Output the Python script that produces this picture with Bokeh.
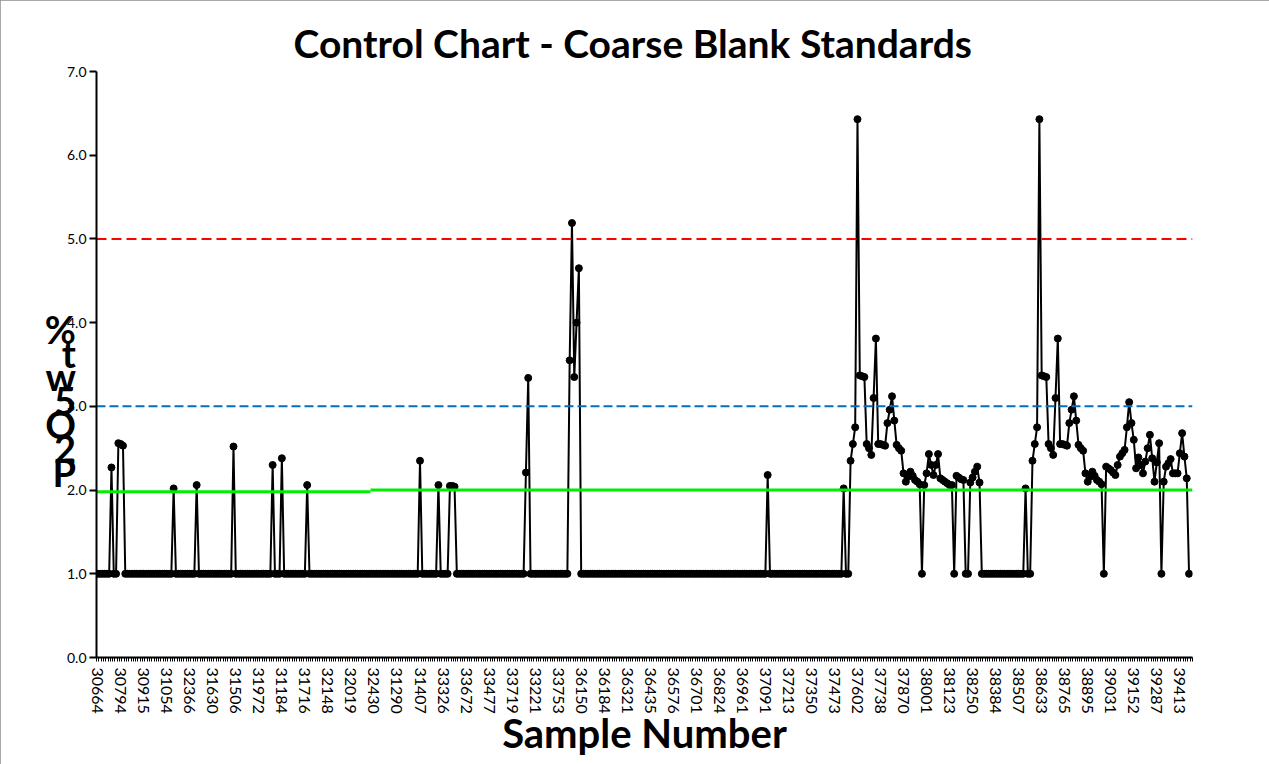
import math
from bokeh.plotting import figure
from bokeh.models import Range1d, FixedTicker, NumeralTickFormatter
from bokeh.embed import file_html
from bokeh.resources import INLINE

# ---------------- data ----------------
n_categories = 476          # category slots on the x axis
label_step = 10             # every 10th sample number is labelled

sample_labels = [
    "30664", "30794", "30915", "31054", "32366", "31630", "31506", "31972",
    "31184", "31716", "32148", "32019", "32430", "31290", "31407", "33326",
    "33672", "33477", "33719", "33221", "33753", "36150", "36184", "36321",
    "36435", "36576", "36701", "36824", "36961", "37091", "37213", "37350",
    "37473", "37602", "37738", "37870", "38001", "38123", "38250", "38384",
    "38507", "38633", "38765", "38895", "39031", "39152", "39287", "39413",
]

qc_values = [
    # 0-19
    1.0, 1.0, 1.0, 1.0, 1.0, 1.0, 2.27, 1.0, 1.0, 2.56, 2.55, 2.53, 1.0, 1.0, 1.0, 1.0, 1.0, 1.0, 1.0, 1.0,
    # 20-39
    1.0, 1.0, 1.0, 1.0, 1.0, 1.0, 1.0, 1.0, 1.0, 1.0, 1.0, 1.0, 1.0, 2.02, 1.0, 1.0, 1.0, 1.0, 1.0, 1.0,
    # 40-59
    1.0, 1.0, 1.0, 2.06, 1.0, 1.0, 1.0, 1.0, 1.0, 1.0, 1.0, 1.0, 1.0, 1.0, 1.0, 1.0, 1.0, 1.0, 1.0, 2.52,
    # 60-79
    1.0, 1.0, 1.0, 1.0, 1.0, 1.0, 1.0, 1.0, 1.0, 1.0, 1.0, 1.0, 1.0, 1.0, 1.0, 1.0, 2.30, 1.0, 1.0, 1.0,
    # 80-99
    2.38, 1.0, 1.0, 1.0, 1.0, 1.0, 1.0, 1.0, 1.0, 1.0, 1.0, 2.06, 1.0, 1.0, 1.0, 1.0, 1.0, 1.0, 1.0, 1.0,
    # 100-119
    1.0, 1.0, 1.0, 1.0, 1.0, 1.0, 1.0, 1.0, 1.0, 1.0, 1.0, 1.0, 1.0, 1.0, 1.0, 1.0, 1.0, 1.0, 1.0, 1.0,
    # 120-139
    1.0, 1.0, 1.0, 1.0, 1.0, 1.0, 1.0, 1.0, 1.0, 1.0, 1.0, 1.0, 1.0, 1.0, 1.0, 1.0, 1.0, 1.0, 1.0, 1.0,
    # 140-159
    2.35, 1.0, 1.0, 1.0, 1.0, 1.0, 1.0, 1.0, 2.06, 1.0, 1.0, 1.0, 1.0, 2.05, 2.05, 2.04, 1.0, 1.0, 1.0, 1.0,
    # 160-179
    1.0, 1.0, 1.0, 1.0, 1.0, 1.0, 1.0, 1.0, 1.0, 1.0, 1.0, 1.0, 1.0, 1.0, 1.0, 1.0, 1.0, 1.0, 1.0, 1.0,
    # 180-199
    1.0, 1.0, 1.0, 1.0, 1.0, 1.0, 2.21, 3.34, 1.0, 1.0, 1.0, 1.0, 1.0, 1.0, 1.0, 1.0, 1.0, 1.0, 1.0, 1.0,
    # 200-219
    1.0, 1.0, 1.0, 1.0, 1.0, 3.55, 5.19, 3.35, 4.00, 4.65, 1.0, 1.0, 1.0, 1.0, 1.0, 1.0, 1.0, 1.0, 1.0, 1.0,
    # 220-239
    1.0, 1.0, 1.0, 1.0, 1.0, 1.0, 1.0, 1.0, 1.0, 1.0, 1.0, 1.0, 1.0, 1.0, 1.0, 1.0, 1.0, 1.0, 1.0, 1.0,
    # 240-259
    1.0, 1.0, 1.0, 1.0, 1.0, 1.0, 1.0, 1.0, 1.0, 1.0, 1.0, 1.0, 1.0, 1.0, 1.0, 1.0, 1.0, 1.0, 1.0, 1.0,
    # 260-279
    1.0, 1.0, 1.0, 1.0, 1.0, 1.0, 1.0, 1.0, 1.0, 1.0, 1.0, 1.0, 1.0, 1.0, 1.0, 1.0, 1.0, 1.0, 1.0, 1.0,
    # 280-299
    1.0, 1.0, 1.0, 1.0, 1.0, 1.0, 1.0, 1.0, 1.0, 1.0, 1.0, 2.18, 1.0, 1.0, 1.0, 1.0, 1.0, 1.0, 1.0, 1.0,
    # 300-319
    1.0, 1.0, 1.0, 1.0, 1.0, 1.0, 1.0, 1.0, 1.0, 1.0, 1.0, 1.0, 1.0, 1.0, 1.0, 1.0, 1.0, 1.0, 1.0, 1.0,
    # 320-339
    1.0, 1.0, 1.0, 1.0, 2.02, 1.0, 1.0, 2.35, 2.55, 2.75, 6.43, 3.37, 3.36, 3.35, 2.55, 2.50, 2.42, 3.10, 3.81, 2.55,
    # 340-359
    2.55, 2.54, 2.53, 2.80, 2.96, 3.12, 2.83, 2.54, 2.50, 2.47, 2.20, 2.10, 2.16, 2.22, 2.17, 2.12, 2.10, 2.07, 1.0, 2.06,
    # 360-379
    2.20, 2.43, 2.30, 2.18, 2.30, 2.43, 2.14, 2.12, 2.10, 2.08, 2.06, 2.06, 1.0, 2.17, 2.15, 2.13, 2.12, 1.0, 1.0, 2.09,
    # 380-399
    2.15, 2.22, 2.28, 2.09, 1.0, 1.0, 1.0, 1.0, 1.0, 1.0, 1.0, 1.0, 1.0, 1.0, 1.0, 1.0, 1.0, 1.0, 1.0, 1.0,
    # 400-419
    1.0, 1.0, 1.0, 2.02, 1.0, 1.0, 2.35, 2.55, 2.75, 6.43, 3.37, 3.36, 3.35, 2.55, 2.50, 2.42, 3.10, 3.81, 2.55, 2.55,
    # 420-439
    2.54, 2.53, 2.80, 2.96, 3.12, 2.83, 2.54, 2.50, 2.47, 2.20, 2.10, 2.16, 2.22, 2.17, 2.12, 2.10, 2.07, 1.0, 2.28, 2.26,
    # 440-459
    2.24, 2.21, 2.18, 2.30, 2.40, 2.44, 2.48, 2.75, 3.05, 2.80, 2.60, 2.26, 2.39, 2.30, 2.20, 2.34, 2.50, 2.66, 2.38, 2.10,
    # 460-474
    2.33, 2.56, 1.0, 2.10, 2.28, 2.32, 2.37, 2.20, 2.20, 2.20, 2.44, 2.68, 2.40, 2.14, 1.0,
]

upper_limit = 5.0            # red dashed
warning_limit = 3.0          # blue dashed
center_values = [1.98, 2.0]  # green centre line, before / after the break
center_break = 119           # category where the centre line steps
y_ticks = [0, 1, 2, 3, 4, 5, 6, 7]

title_text = "Control Chart - Coarse Blank Standards"
x_title = "Sample Number"
y_title_chars = ["%", "t", "w", "5", "O", "2", "P"]   # stacked, top to bottom

# ---------------- figure ----------------
W, H = 1269, 764
FL, FT, FR, FB = 96, 71, 1192, 657   # frame edges in px
x_lo, x_hi = -0.5, n_categories - 0.5
y_lo, y_hi = 0.0, 7.0

p = figure(width=W, height=H, output_backend="svg", toolbar_location=None,
           x_range=Range1d(x_lo, x_hi), y_range=Range1d(y_lo, y_hi),
           min_border_left=FL, min_border_right=W - FR,
           min_border_top=FT, min_border_bottom=H - FB,
           background_fill_color="white", border_fill_color="white",
           outline_line_color=None,
           styles={"outline": "1px solid #8c8c8c", "outline-offset": "-1px"})
p.grid.visible = False

# title
p.title.text = title_text
p.title.align = "left"
p.title.offset = 197
p.title.text_font = "Lato"
p.title.text_font_style = "bold"
p.title.text_font_size = "39px"
p.title.text_color = "black"
p.title.standoff = 12

# axes
label_positions = [i * label_step for i in range(len(sample_labels))]
boundaries = [i - 0.5 for i in range(n_categories + 1)]
xa = p.xaxis[0]
xa.ticker = FixedTicker(ticks=label_positions, minor_ticks=boundaries)
xa.major_label_overrides = {pos: lab for pos, lab in zip(label_positions, sample_labels)}
xa.major_label_orientation = -math.pi / 2
xa.major_tick_out = 0
xa.major_tick_in = 0
xa.minor_tick_out = 4
xa.minor_tick_in = 0
xa.minor_tick_line_color = "black"
xa.minor_tick_line_width = 1
xa.axis_line_color = "black"
xa.axis_line_width = 2
xa.major_label_standoff = 6
xa.major_label_text_font = "Lato"
xa.major_label_text_font_size = "16px"
xa.major_label_text_color = "black"
xa.axis_label = x_title
xa.axis_label_standoff = -8
xa.axis_label_text_font = "Lato"
xa.axis_label_text_font_style = "bold"
xa.axis_label_text_font_size = "40px"
xa.axis_label_text_color = "black"

ya = p.yaxis[0]
ya.ticker = FixedTicker(ticks=y_ticks, minor_ticks=[])
ya.formatter = NumeralTickFormatter(format="0.0")
ya.major_tick_out = 7
ya.major_tick_in = 0
ya.minor_tick_out = 0
ya.major_tick_line_width = 2
ya.major_tick_line_color = "black"
ya.axis_line_color = "black"
ya.axis_line_width = 2
ya.major_label_standoff = 3
ya.major_label_text_font = "Lato"
ya.major_label_text_font_size = "14px"
ya.major_label_text_color = "black"
# stacked y title (3 blank lines on top push the stack down as in the original)
ya.axis_label = "\n".join(["\u00a0"] * 3 + y_title_chars)
try:
    ya.axis_label_orientation = "horizontal"
except AttributeError:
    pass
ya.axis_label_standoff = -12
ya.axis_label_text_font = "Lato"
ya.axis_label_text_font_style = "bold"
ya.axis_label_text_font_size = "38px"
ya.axis_label_text_line_height = 0.52
ya.axis_label_text_color = "black"
ya.axis_label_text_align = "center"

# data series
sample_index = list(range(len(qc_values)))
p.line(sample_index, qc_values, line_color="black", line_width=2)
p.scatter(sample_index, qc_values, marker="circle", size=7,
          fill_color="black", line_color="black")

# control lines
p.line([x_lo, x_hi], [upper_limit, upper_limit], line_color="#ff0000",
       line_width=2, line_dash="10 5")
p.line([x_lo, x_hi], [warning_limit, warning_limit], line_color="#0070c0",
       line_width=2, line_dash="9 4")
p.line([x_lo, center_break - 0.5], [center_values[0], center_values[0]],
       line_color="#00ee00", line_width=3)
p.line([center_break - 0.5, x_hi], [center_values[1], center_values[1]],
       line_color="#00ee00", line_width=3)

open("out.html", "w").write(file_html(p, INLINE))
